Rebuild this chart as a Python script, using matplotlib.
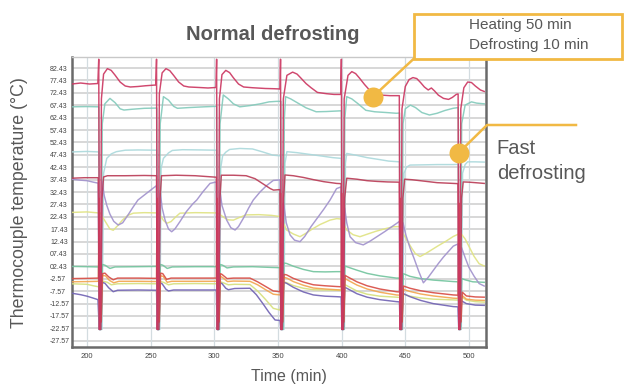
import matplotlib
matplotlib.use("Agg")
import matplotlib.pyplot as plt
from matplotlib.patches import Rectangle

plt.rcParams['font.family'] = ['Liberation Sans', 'DejaVu Sans']

# ---- axis ticks -------------------------------------------------------------
x_ticks = [200, 250, 300, 350, 400, 450, 500]
y_tick_labels = ["82.43", "77.43", "72.43", "67.43", "62.43", "57.43", "52.43",
                 "47.43", "42.43", "37.43", "32.43", "27.43", "22.43", "17.43",
                 "12.43", "07.43", "02.43", "-2.57", "-7.57", "-12.57", "-17.57",
                 "-22.57", "-27.57"]

# ---- thermocouple traces: (time [min], temperature [degC]) ------------------
red_top = [(188, 76.0), (195, 76.4), (202, 76.0), (208.5, 76.2),
           (209.2, 86), (209.8, -23), (210.6, -10), (211.3, 70), (213, 80), (216, 82.2), (219, 81.5),
           (222, 79.6), (226, 76.8), (230, 75.2), (234, 74.8), (240, 75.0), (246, 75.3), (254, 75.6),
           (254.6, 86), (255.2, -23), (256, -8), (256.8, 72), (259, 80.5), (262, 82.2), (265, 81.4),
           (268, 79.5), (272, 76.8), (276, 75.2), (280, 74.8), (288, 74.6), (295, 74.4), (301.3, 74.6),
           (301.8, 86), (302.4, -23), (303.2, -8), (304, 70), (306, 79.8), (309, 81.5), (312, 80.6),
           (315, 78.5), (319, 76.0), (323, 74.8), (330, 74.5), (340, 74.2), (347, 74.1), (351.6, 74.0),
           (352, 86), (352.6, -23), (353.4, -8), (354.2, 70), (357, 79.5), (361.5, 80.8), (365, 80.0),
           (368, 78.4), (372, 76.2), (376, 74.5), (381, 72.6), (388, 72.1), (394, 71.8), (399.3, 71.8),
           (399.8, 86), (400.4, -23), (401.2, -8), (402, 70), (405, 79.5), (408, 81.0), (411, 80.2),
           (414, 78.4), (418, 75.8), (422, 73.5), (426, 71.8), (432, 71.5), (438, 71.3), (445.3, 71.3),
           (445.8, -23), (446.6, -8), (447.4, 66), (450, 75), (453, 77.8), (456, 78.6), (459, 78.2),
           (462, 76.6), (465, 74.8), (468, 73.6), (470.5, 74.4), (473, 73.2), (476, 71.5), (480, 70.2),
           (484, 69.8), (487, 70.6), (490, 71.8), (491.5, 72.0),
           (492, -23), (492.8, -8), (493.6, 66), (496, 74.5), (499, 76.8), (502, 76.6), (505, 75.2),
           (509, 73.6), (512, 73.0)]

teal = [(188, 66.8), (200, 66.9), (209.3, 66.8), (209.8, -23), (211, -23), (212, 60), (214, 68),
        (218, 70.2), (222, 68.5), (226, 66.0), (229, 65.5), (235, 65.8), (245, 66.2), (254.8, 66.3),
        (255.3, -23), (256.5, -23), (257.5, 60), (260, 70.9), (264, 69.5), (268, 67.0), (271, 66.2),
        (280, 66.5), (292, 66.8), (301.8, 67.0),
        (302.3, -23), (303.5, -23), (304.5, 60), (307, 71.6), (311, 70), (315, 68), (320, 66.8),
        (328, 67.3), (336, 68.0), (343, 68.8), (349, 69.0), (352.3, 69.0),
        (352.8, -23), (354, -23), (355, 62), (356, 70.9), (360, 70.0), (366, 68.2), (372, 66.4),
        (380, 64.8), (388, 64.9), (396, 65.1), (399.8, 65.2),
        (400.3, -23), (401.5, -23), (402.5, 62), (404, 70.9), (408, 70.0), (413, 68.0), (419, 65.4),
        (426, 64.8), (435, 64.5), (443, 64.2), (445.5, 64.3),
        (446, -23), (447.2, -23), (448.2, 60), (450, 66), (454, 67.5), (458, 66.5), (463, 64.5),
        (469, 63.5), (475, 64.2), (481, 65.3), (487.5, 66.2), (491.6, 66.5),
        (492.1, -23), (493.3, -23), (494.3, 60), (497, 67.5), (502, 68.8), (506, 68.3), (512, 68.0)]

cyan = [(188, 48.6), (200, 48.8), (209.3, 48.6), (210.2, -23), (211.8, -23), (213, 40), (215.5, 46.0),
        (219, 47.8), (223, 48.7), (230, 49.3), (240, 49.4), (254.8, 49.3),
        (255.6, -23), (257.2, -23), (258.2, 42), (260, 46.0), (264, 48.2), (267, 49.2), (275, 49.5),
        (290, 49.4), (301.8, 49.3),
        (302.6, -23), (304.2, -23), (305, 42), (306.5, 47.0), (309, 48.5), (312, 49.6), (320, 50.0),
        (330, 49.8), (338, 48.6), (346, 47.3), (352.3, 47.0),
        (353.1, -23), (354.7, -23), (355.5, 44), (357, 48.7), (365, 48.3), (375, 47.6), (385, 46.9),
        (393, 46.3), (399.8, 46.0),
        (400.6, -23), (402.2, -23), (403, 44), (404, 48.0), (412, 47.2), (420, 46.3), (430, 45.5),
        (437, 44.9), (445.5, 44.6),
        (446.4, -23), (448, -23), (449, 40), (451, 42.5), (453.7, 43.3), (465, 43.4), (475, 43.5),
        (487.7, 43.5), (491.6, 43.6),
        (492.4, -23), (494, -23), (495, 40), (497, 43.5), (499, 44.6), (505, 44.6), (512, 44.5)]

crimson = [(188, 38.0), (198, 38.2), (208.8, 38.2), (209.6, -23), (210.8, -23), (211.8, 30),
           (213, 38.5), (216, 39.0), (230, 39.0), (245, 39.1), (254.6, 39.0),
           (255.2, -23), (256.4, -23), (257.4, 30), (258.5, 39.0), (270, 39.2), (285, 39.0),
           (296, 38.6), (301.6, 38.4),
           (302.2, -23), (303.4, -23), (304.4, 30), (305.5, 39.2), (315, 39.2), (325, 39.0),
           (332, 37.8), (338, 35.8), (344, 33.8), (346.5, 33.2), (351.6, 33.4),
           (352.2, -23), (353.4, -23), (354.4, 30), (355.5, 39.3), (362, 39.0), (370, 38.3),
           (378, 37.4), (386, 36.6), (396, 35.9), (399.6, 35.8),
           (400.2, -23), (401.4, -23), (402.4, 30), (404, 38.0), (412, 37.6), (420, 37.0),
           (428, 36.7), (436, 36.5), (445.3, 36.4),
           (445.9, -23), (447.1, -23), (448.1, 30), (449.5, 37.6), (455, 37.4), (465, 36.8),
           (475, 36.2), (487.7, 35.9), (491.4, 35.8),
           (492, -23), (493.2, -23), (494.2, 30), (495.5, 36.5), (500, 36.4), (505, 36.2), (512, 35.9)]

lavender = [(188, 37.6), (195, 37.2), (200, 37.0), (205, 36.4), (208.8, 36.0), (209.6, -23),
            (210.8, -23), (211.8, 36.8), (213.5, 31.0), (215.5, 27.1), (218, 23.5), (221, 20.6),
            (224.5, 19.1), (228, 20.0), (232, 23.0), (236, 26.2), (240, 29.2), (244, 30.8),
            (248, 32.4), (252, 34.0), (254.6, 35.0),
            (255.2, -23), (256.4, -23), (257.4, 33), (259, 26), (261.3, 21.1), (264, 17.5),
            (266.5, 16.4), (269, 17.5), (273, 20.5), (278, 24.5), (283, 27.6), (286.2, 29.2),
            (291, 32.5), (296.6, 35.9), (301.6, 36.5),
            (302.2, -23), (303.4, -23), (304.4, 33), (306, 27), (309.7, 21.1), (313, 18.0),
            (316.3, 17.1), (319, 18.5), (323, 22.0), (327, 26.0), (330.6, 29.2), (336, 32.5),
            (341, 35.0), (346.3, 37.1), (351.6, 37.3),
            (352.2, -23), (353.4, -23), (354.4, 28), (356.5, 20), (359.5, 15.1), (363, 13.0),
            (367.3, 12.4), (371, 14.5), (376, 18.5), (381, 22.0), (386, 25.5), (390.9, 29.2),
            (396, 33.8), (399.6, 34.5),
            (400.2, -23), (401.4, -23), (402.4, 26), (404, 20), (406.6, 14.4), (411, 12.0),
            (417, 11.1), (422, 12.5), (428, 14.5), (434, 16.5), (439, 18.3), (443.3, 19.8),
            (445.4, 20.6),
            (446, -23), (447.2, -23), (448.2, 20), (450.5, 15), (453.7, 9.9), (457, 5.5),
            (460.5, 0.5), (464.2, -4.2), (468, -2.0), (472, 0.8), (476, 3.6), (480, 6.2),
            (484, 8.5), (487.7, 10.6), (491.4, 11.5),
            (492, -23), (493.2, -23), (494.2, 10), (497, 6.0), (500, 2.0), (504, -1.5),
            (508, -4.5), (512, -5.5)]

yellow = [(188, 24.2), (200, 24.4), (209, 24.0), (210.5, 24), (212, 22.5), (215, 20.0), (218, 17.5),
          (220.6, 17.0), (224, 18.8), (228, 21.2), (232, 23.0), (236.4, 23.9), (245, 24.1), (255, 24.0),
          (257.5, 23), (260, 21.0), (262.6, 19.8), (266, 20.5), (269.5, 22.3), (273, 23.9), (285, 24.1),
          (302, 24.0), (304, 23.5), (308, 22.0), (311, 21.2), (315, 21.1), (319, 22.0), (325, 23.2),
          (335, 23.3), (345, 23.0), (352, 22.5),
          (354, 20.0), (356.8, 17.1), (362, 15.5), (367.3, 14.4), (372, 15.8), (377, 17.5), (383, 19.3),
          (390.9, 21.1), (396.2, 21.7), (400, 21.5),
          (402, 19), (404, 17.1), (409, 15.2), (414.4, 14.4), (420, 15.4), (427, 16.6), (434, 17.6),
          (440.6, 18.4), (446, 18.5),
          (448, 16), (451.1, 13.1), (455, 9.8), (458, 7.5), (461.6, 6.4), (466, 7.6), (471, 9.2),
          (476, 10.8), (482, 12.6), (487.7, 14.5), (492, 15.5),
          (494, 15.5), (497, 13.5), (500, 10.5), (504, 6.5), (508, 3.5), (512, 2.6)]

green = [(188, 2.4), (200, 2.3), (209, 2.2), (209.8, -23), (211, -23), (212, 3.2), (214.1, 2.9),
         (218, 1.6), (222, 2.2), (240, 2.3), (254.8, 2.4),
         (255.4, -23), (256.6, -23), (257.6, 3.2), (259.5, 2.9), (263, 1.6), (267, 2.2), (285, 2.3),
         (301.8, 2.3),
         (302.4, -23), (303.6, -23), (304.6, 3.2), (306.5, 2.9), (310, 1.8), (315, 2.2), (330, 2.3),
         (345, 2.0), (351.8, 1.9),
         (352.4, -23), (353.6, -23), (354.6, 3.8), (356.8, 3.6), (362, 2.5), (370, 1.2), (377.8, 0.3),
         (387, 0.2), (396, 0.3), (399.8, 0.3),
         (400.4, -23), (401.6, -23), (402.6, 2.6), (404, 2.3), (412, 0.9), (420, -0.4), (430, -1.4),
         (443, -2.3), (445.6, -2.3),
         (446.2, -23), (447.4, -23), (448.4, -0.5), (453.7, -1.6), (462, -2.5), (472, -3.1),
         (487.7, -3.7), (491.6, -3.8),
         (492.2, -23), (493.4, -23), (494.4, -2.5), (497, -3.0), (503, -3.8), (512, -4.0)]

red_low = [(188, -2.5), (200, -2.4), (209, -2.3), (209.4, 30), (210.2, -20), (211.2, -20),
           (212.2, -0.5), (214.1, -0.3), (217, -1.8), (220.6, -3.0), (224, -2.3), (240, -2.3),
           (254.6, -2.4),
           (255, 30), (255.8, -20), (256.8, -20), (257.8, -0.3), (259.5, -0.5), (262.5, -2.8),
           (266, -2.3), (285, -2.3), (301.6, -2.3),
           (302, 30), (302.8, -20), (303.8, -20), (304.8, -0.5), (306, -0.8), (310, -2.5), (315, -2.3),
           (328, -2.3), (334, -3.8), (340, -5.6), (346.3, -7.5), (351.6, -7.8),
           (352, 32), (352.8, -20), (353.8, -20), (354.8, -0.8), (356.8, -1.0), (362, -2.4),
           (370, -3.9), (377.8, -5.0), (387, -5.4), (396, -5.7), (399.6, -5.8),
           (400, 32), (400.8, -20), (401.8, -20), (402.8, -1.2), (404, -1.6), (412, -3.8), (420, -5.4),
           (430, -6.7), (443, -7.8), (445.4, -7.9),
           (445.8, 30), (446.6, -20), (447.6, -20), (448.6, -5.5), (453.7, -6.4), (462, -7.4),
           (472, -8.2), (487.7, -9.1), (491.6, -9.2),
           (492, 28), (492.8, -20), (493.8, -20), (494.8, -8), (498, -9.5), (505, -9.9), (512, -10.0)]

orange = [(188, -3.8), (200, -3.7), (209, -3.6), (209.6, 18), (210.4, -3.6), (212.5, -1.2),
          (214.5, -1.4), (217.5, -3.2), (221, -4.2), (225, -3.6), (240, -3.6), (254.8, -3.7),
          (255.2, 18), (256, -3.7), (257.6, -1.4), (259.8, -1.6), (263, -4.0), (266.5, -3.6),
          (285, -3.6), (301.8, -3.6),
          (302.2, 18), (303, -3.6), (304.6, -1.6), (306.3, -2.0), (310.3, -3.7), (315, -3.5),
          (328, -3.6), (334, -5.0), (340, -6.9), (346.3, -8.8), (351.8, -9.1),
          (352.2, 20), (353, -5), (354.6, -2.0), (357, -2.3), (362, -3.7), (370, -5.2),
          (377.8, -6.3), (387, -6.7), (396, -7.0), (399.8, -7.1),
          (400.2, 20), (401, -5), (402.6, -2.5), (404, -2.9), (412, -5.1), (420, -6.7), (430, -8.0),
          (443, -9.1), (445.6, -9.2),
          (446, 18), (446.8, -8), (448.4, -6.8), (453.7, -7.7), (462, -8.7), (472, -9.5),
          (487.7, -10.4), (491.6, -10.5),
          (492.2, 16), (493, -10), (494.6, -9.3), (498, -10.8), (505, -11.2), (512, -11.3)]

lime = [(188, -4.6), (200, -4.8), (205, -5.4), (209, -5.8), (211, -5), (213, -3.6), (216, -4.0),
        (219, -5.0), (224, -4.6), (240, -4.5), (254.8, -4.6), (257.8, -3.7), (260, -4.0), (264, -5.0),
        (268, -4.6), (285, -4.5), (301.8, -4.6), (304.8, -3.8), (307, -4.2), (311, -5.0), (316, -4.8),
        (328, -4.9), (334, -7.5), (340, -10.8), (346.3, -14.5), (351.6, -15.2), (354.8, -3.8),
        (357, -4.2), (362, -5.3), (370, -6.4), (377.8, -7.0), (387, -7.1), (396, -7.2), (399.8, -7.3),
        (402.8, -5.0), (405, -5.6), (412, -7.5), (420, -8.8), (430, -9.6), (443, -10.0),
        (445.6, -10.1), (448.6, -8.8), (453.7, -9.6), (462, -10.3), (472, -10.8), (487.7, -11.1),
        (491.6, -11.2), (494.8, -10.0), (498, -11.2), (505, -11.8), (512, -12.0)]

violet = [(188, -8.4), (195, -9.0), (200, -9.6), (205, -10.4), (208.6, -11.0), (209.6, -23),
          (210.8, -23), (211.8, -4.0), (214.1, -4.4), (217, -6.2), (220.6, -7.8), (224, -7.2),
          (240, -7.1), (254.6, -7.2),
          (255.2, -23), (256.4, -23), (257.4, -4.2), (259, -4.6), (262, -6.8), (264, -7.5),
          (268, -7.1), (285, -7.1), (301.6, -7.1),
          (302.2, -23), (303.4, -23), (304.4, -4.2), (306, -4.5), (309, -6.4), (311, -7.0),
          (316, -6.5), (328, -6.4), (333, -9.0), (338, -12.5), (343, -16.2), (347.7, -19.2),
          (351.6, -19.4),
          (352.2, -23), (353.4, -23), (354.4, -4.0), (356.8, -4.4), (362, -6.0), (370, -7.9),
          (377.8, -9.1), (387, -9.6), (396, -9.8), (399.6, -9.9),
          (400.2, -23), (401.4, -23), (402.4, -6.0), (404, -6.4), (412, -8.6), (420, -10.0),
          (430, -11.0), (443, -11.8), (445.4, -11.9),
          (446, -23), (447.2, -23), (448.2, -8.5), (453.7, -9.8), (462, -11.3), (472, -12.6),
          (487.7, -13.8), (491.4, -13.9),
          (492, -23), (493.2, -23), (494.2, -11.5), (498, -12.6), (505, -13.2), (512, -13.3)]

# drawing order and colours (back to front)
traces = [
    (cyan, '#acd9dc'),
    (teal, '#85cbbc'),
    (yellow, '#e0e384'),
    (lime, '#d6e07e'),
    (violet, '#7264b4'),
    (green, '#74c59f'),
    (orange, '#f2a650'),
    (lavender, '#a293cd'),
    (red_low, '#d84e46'),
    (crimson, '#bb3e58'),
    (red_top, '#cc3862'),
]

# ---- figure ------------------------------------------------------------------
W, H = 624, 388
fig = plt.figure(figsize=(W / 100, H / 100), dpi=100)
ax = fig.add_axes([72 / W, 41 / H, 414 / W, 290 / H])

y_ticks = [float(s) for s in y_tick_labels]
for yv in y_ticks:
    ax.axhline(yv, color='#cdcdcd', lw=1.1, zorder=1)
for xv in x_ticks:
    ax.axvline(xv, color='#d3dce0', lw=0.9, zorder=1)

for data, col in traces:
    ts = [p[0] for p in data]
    vs = [p[1] for p in data]
    ax.plot(ts, vs, color=col, lw=1.05, alpha=0.92, zorder=3, solid_joinstyle='round')

ax.set_xlim(188.2, 513.4)
ax.set_ylim(-30.1, 86.9)
ax.set_xticks(x_ticks)
ax.set_xticklabels([str(v) for v in x_ticks])
ax.set_yticks(y_ticks)
ax.set_yticklabels(y_tick_labels)
ax.tick_params(axis='x', length=0, pad=4, labelsize=5.5, labelcolor='#444444')
ax.tick_params(axis='y', length=0, pad=15.8, labelsize=5, labelcolor='#444444')
for lab in ax.get_yticklabels():
    lab.set_horizontalalignment('left')

for side in ('left', 'right', 'bottom'):
    ax.spines[side].set_color('#6a6a6a')
    ax.spines[side].set_linewidth(1.8)
ax.spines['top'].set_color('#c8c8c8')
ax.spines['top'].set_linewidth(1.0)

# ---- overlay in pixel coordinates for titles and callouts ----------------------
ov = fig.add_axes([0, 0, 1, 1], zorder=10)
ov.set_xlim(0, W)
ov.set_ylim(H, 0)
ov.axis('off')
ov.patch.set_alpha(0)

txt_col = '#585858'
gold = '#f1b944'

ov.text(273, 34.4, 'Normal defrosting', ha='center', va='center', fontsize=14.5,
        fontweight='bold', color=txt_col)
ov.text(288.5, 376.5, 'Time (min)', ha='center', va='center', fontsize=11.5, color=txt_col)
ov.text(20, 203, 'Thermocouple temperature (°C)', ha='center', va='center', rotation=90,
        fontsize=12.8, color=txt_col)

ov.add_patch(Rectangle((414, 13.8), 208, 44.7, facecolor='white', edgecolor=gold, lw=2))
ov.text(469, 24.8, 'Heating 50 min', ha='left', va='center', fontsize=11, color=txt_col)
ov.text(469, 44.8, 'Defrosting 10 min', ha='left', va='center', fontsize=11, color=txt_col)
ov.plot([414, 373], [58.5, 96.7], color=gold, lw=1.8)
ov.plot([373], [96.7], 'o', ms=14.4, color=gold, mec='none')

ov.plot([576, 487, 458.5], [125, 125, 153], color=gold, lw=1.8)
ov.plot([458.5], [153], 'o', ms=14.4, color=gold, mec='none')
ov.text(496.7, 148.3, 'Fast', ha='left', va='center', fontsize=14.5, color=txt_col)
ov.text(496.7, 173.5, 'defrosting', ha='left', va='center', fontsize=14.5, color=txt_col)

fig.savefig('out.png', dpi=100)
